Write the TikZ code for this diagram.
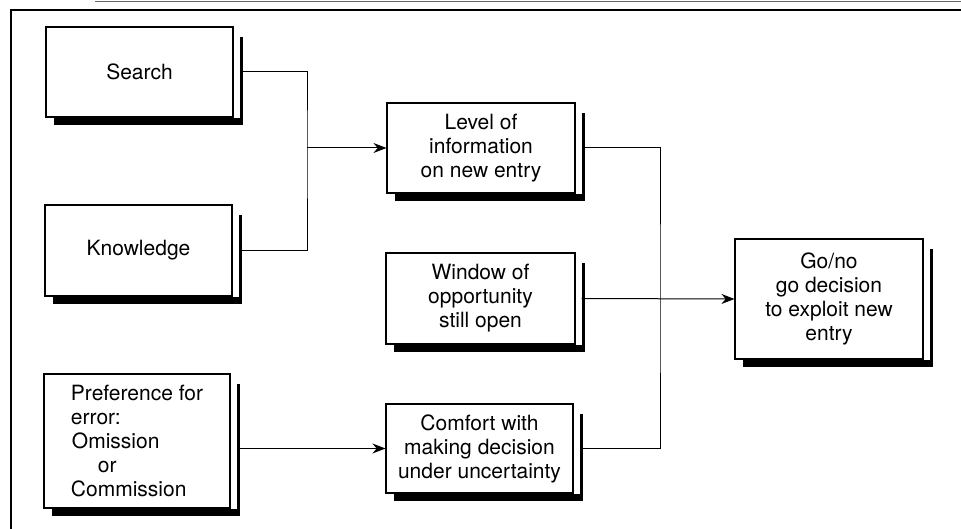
\documentclass[tikz,border=0pt]{standalone}
\usepackage{fontspec}
\setmainfont{TeX Gyre Heros}
\usetikzlibrary{arrows.meta,backgrounds}
\tikzset{
  box/.style={draw=black, line width=1.1pt, fill=white, inner sep=2pt,
    font=\fontsize{21}{24}\selectfont, align=center},
  conn/.style={draw=black, line width=1pt},
  arr/.style={conn, -{Stealth[length=13pt,width=10pt]}},
  frame/.style={draw=black, line width=1.2pt}
}
\newcommand{\boxshadow}[1]{%
  \fill[black] ([xshift=9pt,yshift=-11pt]#1.north east) rectangle ([xshift=6pt,yshift=-7pt]#1.south east);%
  \fill[black] ([xshift=9pt]#1.south west) rectangle ([xshift=6pt,yshift=-7pt]#1.south east);%
}
\begin{document}
\begin{tikzpicture}[x=1pt,y=-1pt]
\useasboundingbox (0,0) rectangle (961,529);
% frame
\coordinate (f0) at (11,529);
\coordinate (f1) at (11,10);
\coordinate (f2) at (961,10);
\draw[frame] (f0) -- (f1) -- (f2);
\coordinate (t0) at (95,1.5);
\coordinate (t1) at (961,1.5);
\draw[black!60, line width=0.6pt] (t0) -- (t1);

% nodes
\node[box, minimum width=187pt, minimum height=90pt] (search) at (139.5,72) {Search};
\node[box, minimum width=187pt, minimum height=91pt] (know) at (138.5,250.5) {Knowledge};
\node[box, minimum width=186pt, minimum height=134pt, align=left] (pref) at (137,441)
  {Preference for\\error:\\\hspace*{1pt}Omission\\\hspace*{27pt}or\\Commission};
\node[box, minimum width=188pt, minimum height=90pt] (level) at (481,148)
  {Level of\\information\\on new entry};
\node[box, minimum width=189pt, minimum height=91pt] (window) at (480.5,298.5)
  {Window of\\opportunity\\still open};
\node[box, minimum width=187pt, minimum height=89pt] (comfort) at (479.5,448.5)
  {Comfort with\\making decision\\under uncertainty};
\node[box, minimum width=188pt, minimum height=120pt] (go) at (829,299)
  {Go/no\\go decision\\to exploit new\\entry};

\begin{scope}[on background layer]
\fill[white] (0,0) rectangle (961,529);
\boxshadow{search}
\boxshadow{know}
\boxshadow{pref}
\boxshadow{level}
\boxshadow{window}
\boxshadow{comfort}
\boxshadow{go}
\end{scope}

% connectors
\coordinate (j1) at (307,148);
\coordinate (j2) at (660,299);
\draw[conn] ([xshift=6pt]search.east) -| (j1) |- ([xshift=6pt]know.east);
\draw[arr] (j1) -- (level.west);
\draw[conn] ([xshift=6pt]level.east) -| (j2) |- ([xshift=6pt]comfort.east);
\draw[arr] ([xshift=6pt]window.east) -- (go.west);
\draw[arr] ([xshift=6pt]pref.east |- comfort.west) -- (comfort.west);
\end{tikzpicture}
\end{document}
